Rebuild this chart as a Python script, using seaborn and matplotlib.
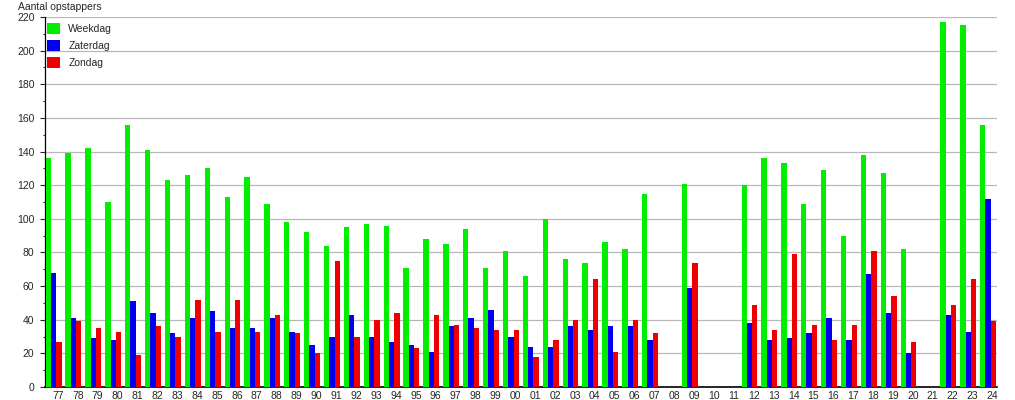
import numpy as np
import pandas as pd
import seaborn as sns
import matplotlib.pyplot as plt

nan = np.nan

jaren = ['77', '78', '79', '80', '81', '82', '83', '84', '85', '86',
         '87', '88', '89', '90', '91', '92', '93', '94', '95', '96',
         '97', '98', '99', '00', '01', '02', '03', '04', '05', '06',
         '07', '08', '09', '10', '11', '12', '13', '14', '15', '16',
         '17', '18', '19', '20', '21', '22', '23', '24']

weekdag = [136, 139, 142, 110, 156, 141, 123, 126, 130, 113,
           125, 109, 98, 92, 84, 95, 97, 96, 71, 88,
           85, 94, 71, 81, 66, 100, 76, 74, 86, 82,
           115, nan, 121, nan, nan, 120, 136, 133, 109, 129,
           90, 138, 127, 82, nan, 217, 215, 156]

zaterdag = [68, 41, 29, 28, 51, 44, 32, 41, 45, 35,
            35, 41, 33, 25, 30, 43, 30, 27, 25, 21,
            36, 41, 46, 30, 24, 24, 36, 34, 36, 36,
            28, nan, 59, nan, nan, 38, 28, 29, 32, 41,
            28, 67, 44, 20, nan, 43, 33, 112]

zondag = [27, 39, 35, 33, 19, 36, 30, 52, 33, 52,
          33, 43, 32, 20, 75, 30, 40, 44, 23, 43,
          37, 35, 34, 34, 18, 28, 40, 64, 21, 40,
          32, nan, 74, nan, nan, 49, 34, 79, 37, 28,
          37, 81, 54, 27, nan, 49, 64, 39]

reeksen = ['Weekdag', 'Zaterdag', 'Zondag']
kleuren = ['#00ee00', '#0000ee', '#ee0000']

df = pd.DataFrame({'jaar': jaren, 'Weekdag': weekdag,
                   'Zaterdag': zaterdag, 'Zondag': zondag})
df = df.melt(id_vars='jaar', var_name='dag', value_name='aantal')

sns.set_style('white')
plt.rcParams['font.family'] = ['Liberation Sans', 'DejaVu Sans']

fig = plt.figure(figsize=(10.15, 4.0), dpi=100)
ax = fig.add_axes([45 / 1015, 13 / 400, 952 / 1015, 370 / 400])

sns.barplot(data=df, x='jaar', y='aantal', hue='dag', hue_order=reeksen,
            palette=kleuren, order=jaren, width=0.8, errorbar=None,
            saturation=1, linewidth=0, ax=ax, zorder=3)

ax.set_xlim(-0.43, 47.45)
ax.set_ylim(0, 220)
ax.set_yticks(range(0, 221, 20))
ax.set_yticks(range(10, 220, 20), minor=True)
ax.set_xticks(np.arange(len(jaren)) + 0.22)
ax.set_xticklabels(jaren)
ax.tick_params(axis='x', length=0, pad=3, labelsize=7.5)
ax.tick_params(axis='y', which='major', left=True, length=3.6, width=0.8,
               pad=4, labelsize=7.5, direction='out')
ax.tick_params(axis='y', which='minor', left=True, length=1.8, width=0.8,
               direction='out')

ax.yaxis.grid(True, color='#b8b8b8', linewidth=0.9, zorder=0)
ax.xaxis.grid(False)
ax.set_axisbelow(True)

for s in ['top', 'right']:
    ax.spines[s].set_visible(False)
ax.spines['left'].set_color('black')
ax.spines['bottom'].set_color('black')
ax.spines['left'].set_linewidth(0.9)
ax.spines['bottom'].set_linewidth(1.2)

ax.set_xlabel('')
ax.set_ylabel('')
fig.text(18 / 1015, 1 - 7 / 400, 'Aantal opstappers', fontsize=7.5,
         ha='left', va='center')

handles, labels = ax.get_legend_handles_labels()
ax.legend(handles, labels, loc='upper left', bbox_to_anchor=(0.0, 0.99),
          frameon=False, fontsize=7.5, handlelength=1.25, handleheight=1.25,
          handletextpad=0.8, labelspacing=0.6, borderaxespad=0, borderpad=0.2)

fig.savefig('out.png', dpi=100)
